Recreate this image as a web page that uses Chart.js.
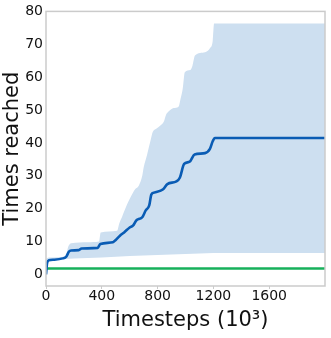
<!DOCTYPE html>
<html><head><meta charset="utf-8">
<script src="https://cdn.jsdelivr.net/npm/chart.js@4.4.1/dist/chart.umd.min.js"></script>
<style>html,body{margin:0;padding:0;background:#fff}#wrap{width:331px;height:338px;position:relative}</style>
</head><body><div id="wrap"><canvas id="c"></canvas></div>
<script>
const xTicks = [0, 400, 800, 1200, 1600];
const yTicks = [0, 10, 20, 30, 40, 50, 60, 70, 80];
const xTitle = 'Timesteps (10³)';
const yTitle = 'Times reached';

const meanX = [0, 8, 20, 60, 120, 145, 165, 180, 235, 255, 370, 390, 480, 500, 530, 560, 600, 625, 645, 660, 690, 715, 740, 755, 775, 840, 870, 935, 960, 990, 1030, 1065, 1140, 1175, 1195, 1210, 2000];
const meanY = [0, 3.5, 4.3, 4.5, 4.9, 5.4, 7.0, 7.3, 7.4, 7.9, 8.1, 9.3, 9.8, 10.5, 11.8, 12.8, 14.3, 14.9, 16.3, 16.8, 17.4, 19.5, 21.0, 24.3, 24.9, 25.9, 27.5, 28.3, 29.5, 33.6, 34.3, 36.5, 36.9, 38.2, 40.5, 41.5, 41.5];

const upperX = [0, 20, 140, 160, 180, 300, 380, 392, 510, 525, 545, 580, 605, 640, 665, 690, 700, 725, 748, 765, 790, 820, 845, 860, 880, 915, 950, 965, 980, 995, 1035, 1050, 1068, 1140, 1175, 1195, 1205, 2000];
const upperY = [4.8, 5.2, 5.5, 8.5, 9.5, 9.8, 10.0, 12.8, 13.3, 15.5, 17.5, 21.2, 23.4, 26.0, 27.0, 30.0, 32.5, 36.5, 40.5, 43.3, 44.3, 45.3, 46.5, 48.5, 49.6, 50.6, 51.0, 53.5, 56.5, 61.5, 62.2, 63.5, 66.6, 67.6, 68.8, 71.0, 76.3, 76.3];

const lowerX = [0, 200, 400, 600, 800, 1000, 1200, 2000];
const lowerY = [4.4, 4.9, 5.2, 5.6, 5.9, 6.2, 6.5, 6.5];

const baseX = [0, 2000];
const baseY = [1.8, 1.8];

const pts = (xs, ys) => xs.map((x, i) => ({x: x, y: ys[i]}));
const FONT = "'DejaVu Sans', sans-serif";

const spines = {
  id: 'spines',
  afterDatasetsDraw(chart) {
    const a = chart.chartArea, ctx = chart.ctx;
    ctx.save();
    ctx.strokeStyle = '#cbcbcb';
    ctx.lineWidth = 1.5;
    ctx.strokeRect(a.left, a.top, a.right - a.left, a.bottom - a.top);
    ctx.restore();
  }
};

new Chart(document.getElementById('c'), {
  type: 'line',
  data: {
    datasets: [
      { data: pts(meanX, meanY), borderColor: '#0a5cb4', borderWidth: 2.6, pointRadius: 0, fill: false, cubicInterpolationMode: 'monotone' },
      { data: pts(baseX, baseY), borderColor: '#17b05b', borderWidth: 2.6, pointRadius: 0, fill: false },
      { data: pts(upperX, upperY), borderWidth: 0, borderColor: 'rgba(0,0,0,0)', backgroundColor: '#cddff0', pointRadius: 0, fill: '+1', cubicInterpolationMode: 'monotone' },
      { data: pts(lowerX, lowerY), borderWidth: 0, borderColor: 'rgba(0,0,0,0)', pointRadius: 0, fill: false }
    ]
  },
  options: {
    responsive: true,
    maintainAspectRatio: false,
    animation: false,
    events: [],
    layout: { padding: { top: 9, right: 6, left: 0, bottom: 0 } },
    plugins: { legend: { display: false }, tooltip: { enabled: false } },
    scales: {
      x: {
        type: 'linear', min: 0, max: 2000,
        afterBuildTicks: (s) => { s.ticks = xTicks.map(v => ({value: v})); },
        afterFit: (s) => { s.height = 52; },
        grid: { display: true, drawOnChartArea: false, drawTicks: true, tickLength: 3, color: '#cbcbcb' },
        border: { display: false },
        ticks: { padding: 0, color: '#111', font: { family: FONT, size: 14, lineHeight: 1 }, maxRotation: 0, callback: (v) => String(v) },
        title: { display: true, text: xTitle, color: '#111', font: { family: FONT, size: 21, lineHeight: 1 }, padding: { top: 0, bottom: 7 } }
      },
      y: {
        type: 'linear', min: -3.5, max: 80,
        afterBuildTicks: (s) => { s.ticks = yTicks.map(v => ({value: v})); },
        afterFit: (s) => { s.width = 46; },
        grid: { display: false, drawTicks: false },
        border: { display: false },
        ticks: { padding: 3, color: '#111', font: { family: FONT, size: 14 }, callback: (v) => String(v) },
        title: { display: true, text: yTitle, color: '#111', font: { family: FONT, size: 21, lineHeight: 1 }, padding: { top: 2, bottom: 0 } }
      }
    }
  },
  plugins: [spines]
});
</script>
</body></html>
